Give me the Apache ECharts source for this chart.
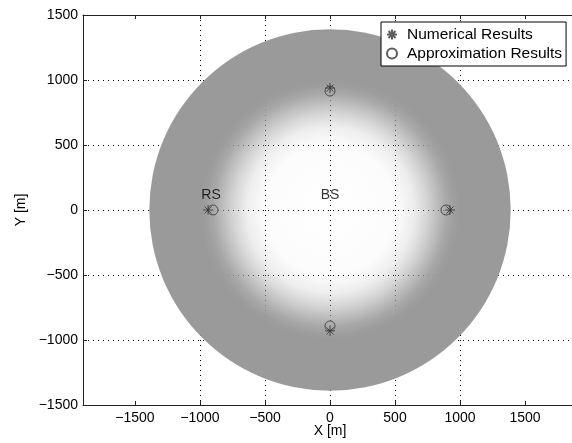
<!DOCTYPE html>
<html>
<head>
<meta charset="utf-8">
<script src="https://cdn.jsdelivr.net/npm/echarts@6/dist/echarts.min.js"></script>
<style>html,body{margin:0;padding:0;background:#fff;overflow:hidden;}#c{width:572px;height:443px;}</style>
</head>
<body>
<div id="c"></div>
<script>
// ---- data ----
const xTicks = [-1500, -1000, -500, 0, 500, 1000, 1500];
const yTicks = [-1500, -1000, -500, 0, 500, 1000, 1500];
const xRange = [-1900, 1900];
const yRange = [-1500, 1500];
const coverageDisk = [[0, 0, 1390]]; // centre x, centre y, radius [m]
const numericalResults = [[-938, 0], [923, 0], [0, 938], [0, -930]];
const approximationResults = [[-900, 0], [892, 0], [0, 915], [0, -892]];
const nodeLabels = [['RS', -915, 118], ['BS', 0, 118]];

const FONT = "'Liberation Sans', Arial, Helvetica, sans-serif";
const minus = v => String(v).replace('-', '\u2212');
const asterisk = 'path://M5,0L5,10M0,5L10,5M1.5,1.5L8.5,8.5M1.5,8.5L8.5,1.5';
const gray = a => 'rgba(154,154,154,' + a + ')';

const chart = echarts.init(document.getElementById('c'), null, {renderer: 'canvas'});
const gridLine = {show: true, showMinLine: false, showMaxLine: false, lineStyle: {color: '#000', width: 1, type: [1, 4]}};
const axisLine = {show: true, onZero: false, lineStyle: {color: '#222', width: 1}};
const tick = {show: true, inside: true, length: 4, lineStyle: {color: '#222'}};

chart.setOption({
  animation: false,
  backgroundColor: '#fff',
  textStyle: {fontFamily: FONT},
  grid: {left: 83, top: 15, width: 494, height: 390, containLabel: false, outerBoundsMode: 'none'},
  legend: {
    data: ['Numerical Results', 'Approximation Results'],
    orient: 'vertical',
    left: 381, top: 22,
    padding: [4, 4, 4, 5],
    itemWidth: 20, itemHeight: 10, itemGap: 2,
    backgroundColor: '#fff',
    borderColor: '#000', borderWidth: 1, borderRadius: 0,
    textStyle: {fontSize: 15.5, color: '#000', fontFamily: FONT, lineHeight: 17}
  },
  xAxis: [{
    type: 'value', min: xRange[0], max: xRange[1], position: 'bottom',
    axisLine: axisLine,
    axisTick: Object.assign({customValues: xTicks}, tick),
    axisLabel: {customValues: xTicks, formatter: minus, color: '#000', fontSize: 14, margin: 6, fontFamily: FONT},
    splitLine: gridLine,
    name: 'X [m]', nameLocation: 'middle', nameGap: 19, nameMoveOverlap: false,
    nameTextStyle: {color: '#000', fontSize: 14, fontFamily: FONT}
  }, {
    type: 'value', min: xRange[0], max: xRange[1], position: 'top',
    axisLine: axisLine,
    axisTick: Object.assign({customValues: xTicks}, tick),
    axisLabel: {show: false},
    splitLine: {show: false}
  }],
  yAxis: [{
    type: 'value', min: yRange[0], max: yRange[1], interval: 500, position: 'left',
    axisLine: axisLine, axisTick: tick,
    axisLabel: {formatter: minus, color: '#000', fontSize: 14, margin: 5, fontFamily: FONT},
    splitLine: gridLine,
    name: 'Y [m]', nameLocation: 'middle', nameGap: 55, nameRotate: 90, nameMoveOverlap: false,
    nameTextStyle: {color: '#000', fontSize: 14, fontFamily: FONT}
  }, {
    type: 'value', min: yRange[0], max: yRange[1], interval: 500, position: 'right',
    show: false
  }],
  series: [{
    type: 'custom',
    name: 'coverage',
    data: coverageDisk,
    encode: {x: 0, y: 1},
    clip: true,
    z: 1,
    silent: true,
    renderItem: function (params, api) {
      const c = api.coord([api.value(0), api.value(1)]);
      const s = api.size([api.value(2), api.value(2)]);
      return {
        type: 'circle',
        shape: {cx: c[0], cy: c[1], r: s[0]},
        style: {
          fill: new echarts.graphic.RadialGradient(0.5, 0.5, 0.5, [
            {offset: 0, color: gray(0)},
            {offset: 0.36, color: gray(0.03)},
            {offset: 0.46, color: gray(0.17)},
            {offset: 0.53, color: gray(0.40)},
            {offset: 0.59, color: gray(0.64)},
            {offset: 0.645, color: gray(0.86)},
            {offset: 0.69, color: gray(0.97)},
            {offset: 0.72, color: gray(1)},
            {offset: 1, color: gray(1)}
          ])
        }
      };
    }
  }, {
    type: 'scatter',
    name: 'Numerical Results',
    data: numericalResults,
    symbol: asterisk,
    symbolSize: 10,
    z: 5,
    itemStyle: {color: '#333', borderColor: '#333', borderWidth: 1}
  }, {
    type: 'scatter',
    name: 'Approximation Results',
    data: approximationResults,
    symbol: 'circle',
    symbolSize: 10,
    z: 4,
    itemStyle: {color: 'rgba(0,0,0,0)', borderColor: '#333', borderWidth: 1}
  }, {
    type: 'scatter',
    name: 'labels',
    data: nodeLabels.map(d => ({name: d[0], value: [d[1], d[2]]})),
    symbolSize: 0,
    z: 6,
    silent: true,
    label: {show: true, position: 'inside', formatter: p => p.name, color: '#000', fontSize: 14, fontFamily: FONT}
  }]
});
</script>
</body>
</html>
